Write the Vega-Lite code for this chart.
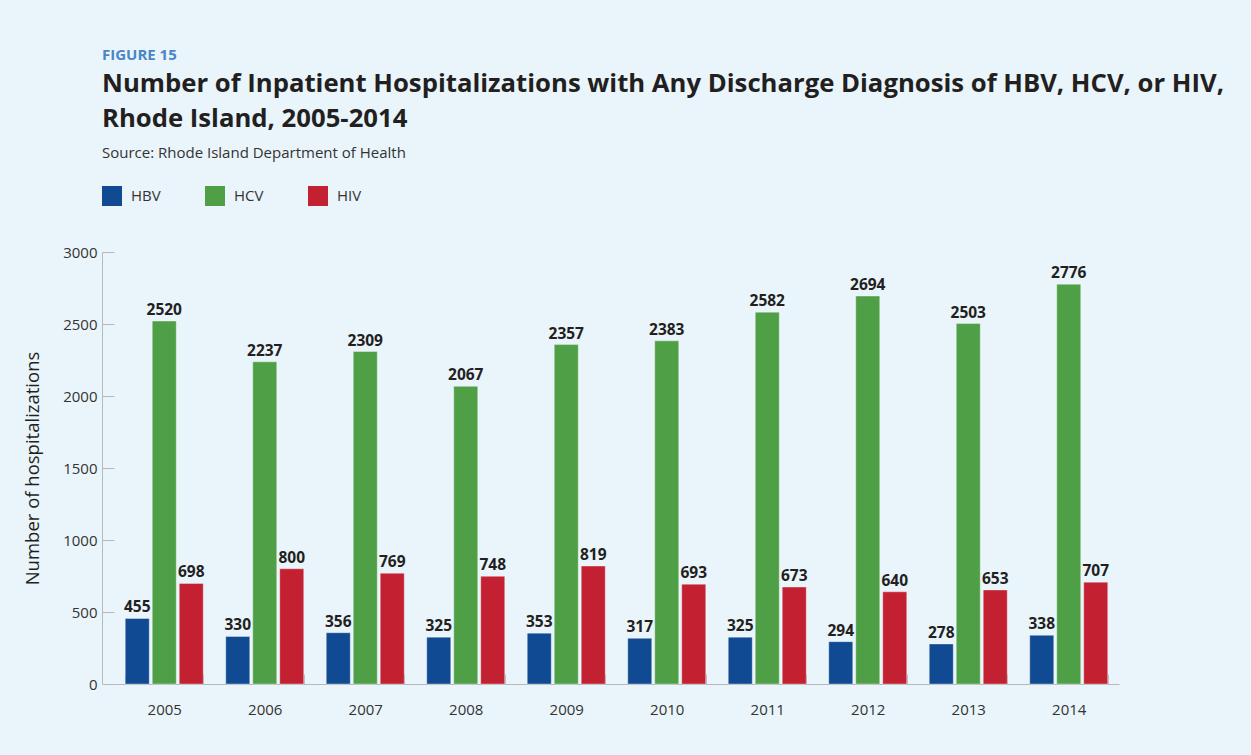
{
  "$schema": "https://vega.github.io/schema/vega-lite/v6.json",
  "autosize": "none",
  "width": 1005,
  "height": 432,
  "padding": {"left": 114, "top": 252, "right": 132, "bottom": 71},
  "background": "#e9f5fb",
  "config": {
    "view": {"stroke": null},
    "font": "Open Sans"
  },
  "title": {
    "text": "FIGURE 15",
    "subtitle": ["Number of Inpatient Hospitalizations with Any Discharge Diagnosis of HBV, HCV, or HIV,", "Rhode Island, 2005-2014"],
    "anchor": "start",
    "frame": "group",
    "dx": -12,
    "offset": 14,
    "color": "#4a86c5",
    "fontSize": 15,
    "fontWeight": "bold",
    "font": "Open Sans",
    "subtitleColor": "#231f20",
    "subtitleFontSize": 25.7,
    "subtitleFontWeight": "bold",
    "subtitleFont": "Open Sans",
    "subtitleLineHeight": 35.5,
    "subtitlePadding": 8.5
  },
  "data": {
    "values": [
      {"year": "2005", "virus": "HBV", "count": 455},
      {"year": "2005", "virus": "HCV", "count": 2520},
      {"year": "2005", "virus": "HIV", "count": 698},
      {"year": "2006", "virus": "HBV", "count": 330},
      {"year": "2006", "virus": "HCV", "count": 2237},
      {"year": "2006", "virus": "HIV", "count": 800},
      {"year": "2007", "virus": "HBV", "count": 356},
      {"year": "2007", "virus": "HCV", "count": 2309},
      {"year": "2007", "virus": "HIV", "count": 769},
      {"year": "2008", "virus": "HBV", "count": 325},
      {"year": "2008", "virus": "HCV", "count": 2067},
      {"year": "2008", "virus": "HIV", "count": 748},
      {"year": "2009", "virus": "HBV", "count": 353},
      {"year": "2009", "virus": "HCV", "count": 2357},
      {"year": "2009", "virus": "HIV", "count": 819},
      {"year": "2010", "virus": "HBV", "count": 317},
      {"year": "2010", "virus": "HCV", "count": 2383},
      {"year": "2010", "virus": "HIV", "count": 693},
      {"year": "2011", "virus": "HBV", "count": 325},
      {"year": "2011", "virus": "HCV", "count": 2582},
      {"year": "2011", "virus": "HIV", "count": 673},
      {"year": "2012", "virus": "HBV", "count": 294},
      {"year": "2012", "virus": "HCV", "count": 2694},
      {"year": "2012", "virus": "HIV", "count": 640},
      {"year": "2013", "virus": "HBV", "count": 278},
      {"year": "2013", "virus": "HCV", "count": 2503},
      {"year": "2013", "virus": "HIV", "count": 653},
      {"year": "2014", "virus": "HBV", "count": 338},
      {"year": "2014", "virus": "HCV", "count": 2776},
      {"year": "2014", "virus": "HIV", "count": 707}
    ]
  },
  "encoding": {
    "x": {
      "field": "year",
      "type": "nominal",
      "scale": {"paddingInner": 0.224, "paddingOuter": 0.112},
      "axis": {
        "title": null,
        "labelAngle": 0,
        "tickBand": "extent",
        "tickSize": -10,
        "tickColor": "#b5b9bd",
        "domainColor": "#b5b9bd",
        "labelFontSize": 15,
        "labelColor": "#333333",
        "labelPadding": 28,
        "labelFont": "Open Sans"
      }
    },
    "y": {
      "field": "count",
      "type": "quantitative",
      "scale": {"domain": [0, 3000], "nice": false},
      "axis": {
        "title": "Number of hospitalizations",
        "titleFontSize": 18.5,
        "titleFontWeight": "normal",
        "titleColor": "#231f20",
        "titleFont": "Open Sans",
        "titlePadding": 20,
        "values": [0, 500, 1000, 1500, 2000, 2500, 3000],
        "format": "d",
        "offset": 12,
        "tickSize": -12,
        "tickColor": "#b5b9bd",
        "domainColor": "#b5b9bd",
        "grid": false,
        "labelFontSize": 15,
        "labelColor": "#333333",
        "labelPadding": 17,
        "labelFont": "Open Sans"
      }
    },
    "xOffset": {
      "field": "virus",
      "type": "nominal",
      "scale": {"paddingInner": 0.111, "paddingOuter": 0}
    }
  },
  "layer": [
    {
      "mark": {"type": "bar", "stroke": "#ffffff", "strokeWidth": 0.6, "strokeOpacity": 0.6},
      "encoding": {
        "color": {
          "field": "virus",
          "type": "nominal",
          "scale": {"domain": ["HBV", "HCV", "HIV"], "range": ["#104a92", "#4f9f46", "#c32032"]},
          "legend": {
            "title": "Source: Rhode Island Department of Health",
            "orient": "none",
            "legendX": -12,
            "legendY": -106,
            "direction": "horizontal",
            "columns": 3,
            "gridAlign": "all",
            "columnPadding": 44,
            "symbolType": "square",
            "symbolSize": 400,
            "symbolStrokeWidth": 0,
            "symbolOpacity": 1,
            "labelFontSize": 15,
            "labelColor": "#333333",
            "labelOffset": 9,
            "labelFont": "Open Sans",
            "titleFontSize": 15,
            "titleFontWeight": "normal",
            "titleColor": "#333333",
            "titleFont": "Open Sans",
            "titlePadding": 25,
            "titleLimit": 600
          }
        }
      }
    },
    {
      "mark": {"type": "text", "baseline": "alphabetic", "dy": -6, "fontSize": 15.5, "fontWeight": "bold", "color": "#231f20", "font": "Open Sans"},
      "encoding": {
        "text": {"field": "count", "type": "quantitative", "format": "d"}
      }
    }
  ]
}
